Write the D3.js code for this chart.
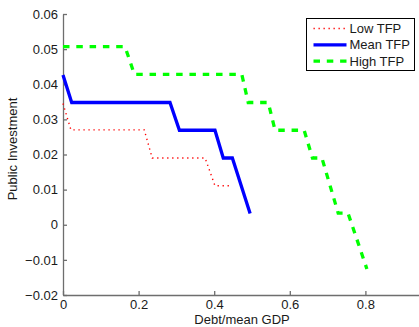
<!DOCTYPE html>
<meta charset="utf-8">
<style>
body { margin: 0; background: #fff; }
svg { display: block; font-family: "Liberation Sans", Arial, sans-serif; }
.axis path, .axis line { stroke: #6e6e6e; stroke-width: 1.3; }
.axis text { fill: #1a1a1a; font-size: 13px; }
</style>
<body>
<script src="https://d3js.org/d3.v7.min.js"></script>
<script>
// values
var lowX  = [0, 0.021, 0.215, 0.236, 0.376, 0.402, 0.448];
var lowY  = [0.0345, 0.0270, 0.0270, 0.0190, 0.0190, 0.0111, 0.0111];
var meanX = [0, 0.023, 0.283, 0.308, 0.402, 0.424, 0.448, 0.495];
var meanY = [0.0426, 0.0348, 0.0348, 0.0269, 0.0269, 0.0190, 0.0190, 0.0032];
var highX = [0, 0.164, 0.189, 0.473, 0.490, 0.543, 0.561, 0.638, 0.660, 0.685, 0.728, 0.754, 0.804];
var highY = [0.0507, 0.0507, 0.0428, 0.0428, 0.0348, 0.0348, 0.0269, 0.0269, 0.0190, 0.0190, 0.0033, 0.0033, -0.0126];
var seriesNames = ["Low TFP", "Mean TFP", "High TFP"];
var xTicks = [0, 0.2, 0.4, 0.6, 0.8];
var yTicks = [-0.02, -0.01, 0, 0.01, 0.02, 0.03, 0.04, 0.05, 0.06];

var width = 419, height = 327;
var margin = {top: 14, left: 63, bottom: 32};

var x = d3.scaleLinear().domain([0, 0.95]).range([margin.left, margin.left + 0.95 * 378]);
var y = d3.scaleLinear().domain([-0.02, 0.06]).range([height - margin.bottom, margin.top]);

var svg = d3.select('body').append('svg')
    .attr('width', width)
    .attr('height', height);

var fmt = function(d) { return Math.abs(d) < 1e-9 ? "0" : d3.format(".2~f")(d).replace("-", "\u2013"); };

svg.append('g')
    .attr('class', 'axis')
    .attr('transform', 'translate(0,' + y(-0.02) + ')')
    .call(d3.axisBottom(x).tickValues(xTicks).tickSize(-4).tickSizeOuter(0).tickPadding(5)
      .tickFormat(function(d) { return d === 0 ? "0" : d3.format(".1f")(d); }));

svg.append('g')
    .attr('class', 'axis')
    .attr('transform', 'translate(' + x(0) + ',0)')
    .call(d3.axisLeft(y).tickValues(yTicks).tickSize(-4).tickSizeOuter(0).tickPadding(5)
      .tickFormat(fmt));

var line = d3.line()
    .x(function(d) { return x(d[0]); })
    .y(function(d) { return y(d[1]); });

var series = [
  {name: seriesNames[0], pts: d3.zip(lowX, lowY), color: '#ff0000', w: 1.4, dash: '1.3,3.7'},
  {name: seriesNames[1], pts: d3.zip(meanX, meanY), color: '#0000ff', w: 3.3, dash: null},
  {name: seriesNames[2], pts: d3.zip(highX, highY), color: '#00ff00', w: 3.3, dash: '6.5,6.8'}
];

svg.selectAll('.series')
    .data(series)
  .enter().append('path')
    .attr('class', 'series')
    .attr('d', function(d) { return line(d.pts); })
    .attr('fill', 'none')
    .attr('stroke', function(d) { return d.color; })
    .attr('stroke-width', function(d) { return d.w; })
    .attr('stroke-dasharray', function(d) { return d.dash; });

// axis titles
svg.append('text')
    .attr('x', 242)
    .attr('y', 324)
    .attr('text-anchor', 'middle')
    .style('font-size', '13px')
    .attr('fill', '#1a1a1a')
    .text('Debt/mean GDP');

svg.append('text')
    .attr('transform', 'translate(17,149) rotate(-90)')
    .attr('text-anchor', 'middle')
    .style('font-size', '13px')
    .attr('fill', '#1a1a1a')
    .text('Public Investment');

// legend
var legend = svg.append('g').attr('transform', 'translate(306.5,18.5)');
legend.append('rect')
    .attr('width', 108)
    .attr('height', 52)
    .attr('fill', '#fff')
    .attr('stroke', '#000')
    .attr('stroke-width', 1);

var item = legend.selectAll('.item')
    .data(series)
  .enter().append('g')
    .attr('class', 'item')
    .attr('transform', function(d, i) { return 'translate(0,' + (10 + i * 16.3) + ')'; });

item.append('line')
    .attr('x1', 7).attr('x2', 40)
    .attr('stroke', function(d) { return d.color; })
    .attr('stroke-width', function(d) { return d.w; })
    .attr('stroke-dasharray', function(d) { return d.dash; });

item.append('text')
    .attr('x', 43)
    .attr('dy', '0.36em')
    .style('font-size', '13px')
    .attr('fill', '#1a1a1a')
    .text(function(d) { return d.name; });
</script>
</body>
